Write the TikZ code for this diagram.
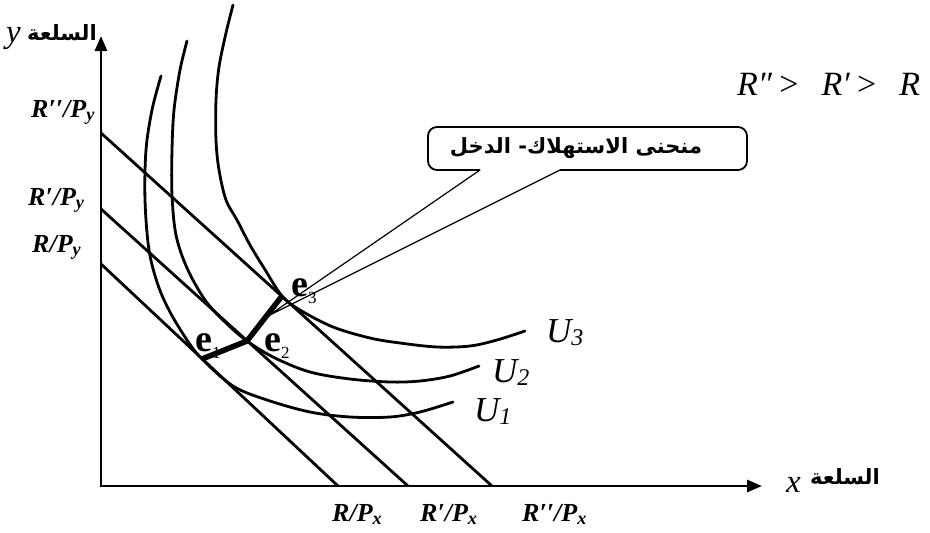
\documentclass[tikz,border=0pt]{standalone}
\usepackage{fontspec}
\setmainfont{Liberation Serif}
\newfontfamily\arabicfont[Script=Arabic]{DejaVu Sans}
\TeXXeTstate=1
\usetikzlibrary{arrows.meta,calc}
\begin{document}
\begin{tikzpicture}[x=1pt,y=-1pt,
  curve/.style={line width=2.8pt, line join=round, line cap=round},
  budget/.style={line width=2.8pt},
  axisline/.style={line width=2.8pt, -{Triangle[length=15pt,width=12pt]}},
  expath/.style={line width=5.5pt, line join=round},
  lab/.style={font=\rmfamily\fontsize{26}{30}\selectfont\bfseries\itshape, inner sep=0pt},
  ulab/.style={font=\rmfamily\fontsize{35}{38}\selectfont\itshape, inner sep=0pt},
  elab/.style={font=\rmfamily\fontsize{38}{40}\selectfont\bfseries, inner sep=0pt},
  arlab/.style={font=\arabicfont\bfseries\fontsize{21}{26}\selectfont, inner sep=0pt},
  varlab/.style={font=\rmfamily\fontsize{33}{36}\selectfont\itshape, inner sep=0pt},
]
\useasboundingbox (0,0) rectangle (930,533);

% axes
\coordinate (O) at (101,486);
\coordinate (Yt) at (101,36);
\coordinate (Xt) at (762,486);
\draw[axisline, shorten <=-1.4pt] (O) -- (Yt);
\draw[axisline, shorten <=-1.4pt] (O) -- (Xt);

% budget lines
\coordinate (A1) at (101,264); \coordinate (B1) at (338,486);
\coordinate (A2) at (101,209); \coordinate (B2) at (408,486);
\coordinate (A3) at (101,133); \coordinate (B3) at (492,486);
\draw[budget] (A1) -- (B1);
\draw[budget] (A2) -- (B2);
\draw[budget] (A3) -- (B3);

% indifference curves
\draw[curve] plot[smooth, tension=0.55] coordinates {(161,76) (152,110) (146,150) (145,200) (149,250) (158,285) (170,312) (187,340) (202,359) (233,386) (267,400) (310,412) (350,417) (390,417) (420,412) (453,402)};
\draw[curve] plot[smooth, tension=0.55] coordinates {(187,41) (180,70) (174,110) (172,150) (172,195) (176,235) (187,268) (205,300) (225,322) (247,341) (275,358) (310,372) (350,379) (390,382) (420,381) (450,376) (479,366)};
\draw[curve] plot[smooth, tension=0.55] coordinates {(233,5) (226,33) (219,67) (216,100) (216,140) (219,170) (226,200) (237,220) (250,245) (264,268) (282,296) (300,310) (333,327) (370,338) (400,343) (437,347) (470,346) (497,340) (525,331)};

% equilibrium points and expansion path
\coordinate (e1) at (202,359);
\coordinate (e2) at (247,341);
\coordinate (e3) at (282,296);
\draw[expath] (e1) -- (e2) -- (e3);

% callout
\coordinate (tip) at (268,316);
\coordinate (pl) at (480,170);
\coordinate (pr) at (560,170);
\draw[line width=1.8pt, rounded corners=9pt] (pl) -- (428,170) -- (428,127) -- (747,127) -- (747,170) -- (pr);
\draw[line width=1.2pt, line join=miter] (pl) -- (tip) -- (pr);
\node[font=\arabicfont\bfseries\fontsize{21}{24}\selectfont, inner sep=0pt] (note) at (576,148) {\beginR منحنى الاستهلاك- الدخل\endR};

% labels on axes
\node[lab, anchor=base west] (l3y) at (31,117) {R′′/P\textsubscript{y}};
\node[lab, anchor=base west] (l2y) at (28,205) {R′/P\textsubscript{y}};
\node[lab, anchor=base west] (l1y) at (32,252) {R/P\textsubscript{y}};
\node[lab, anchor=base west] (l1x) at (332,521) {R/P\textsubscript{x}};
\node[lab, anchor=base west] (l2x) at (420,521) {R′/P\textsubscript{x}};
\node[lab, anchor=base west] (l3x) at (522,521) {R′′/P\textsubscript{x}};

% axis names
\node[varlab, anchor=base west] (ylab) at (6,42) {y};
\node[arlab, anchor=base west] (yar) at (27,40) {\beginR السلعة\endR};
\node[varlab, anchor=base west] (xlab) at (786,492) {x};
\node[arlab, anchor=base west] (xar) at (810,484) {\beginR السلعة\endR};

% curve labels
\node[ulab, anchor=base west] (u3) at (546,342) {U\raisebox{-3pt}{\fontsize{24}{24}\selectfont\itshape 3}};
\node[ulab, anchor=base west] (u2) at (492,382) {U\raisebox{-3pt}{\fontsize{24}{24}\selectfont\itshape 2}};
\node[ulab, anchor=base west] (u1) at (474,421) {U\raisebox{-3pt}{\fontsize{24}{24}\selectfont\itshape 1}};

% point labels
\node[elab, anchor=base west] (le1) at (195,351) {e\raisebox{-7pt}{\fontsize{17}{17}\selectfont\mdseries 1}};
\node[elab, anchor=base west] (le2) at (264,351) {e\raisebox{-7pt}{\fontsize{17}{17}\selectfont\mdseries 2}};
\node[elab, anchor=base west] (le3) at (291,296) {e\raisebox{-7pt}{\fontsize{17}{17}\selectfont\mdseries 3}};

% income ordering
\node[font=\rmfamily\fontsize{34}{36}\selectfont, inner sep=0pt, anchor=base west] (order) at (737,95) {\textit{R″}\hspace{7pt}>\hspace{23pt}\textit{R′}\hspace{7pt}>\hspace{23pt}\textit{R}};
\end{tikzpicture}
\end{document}
